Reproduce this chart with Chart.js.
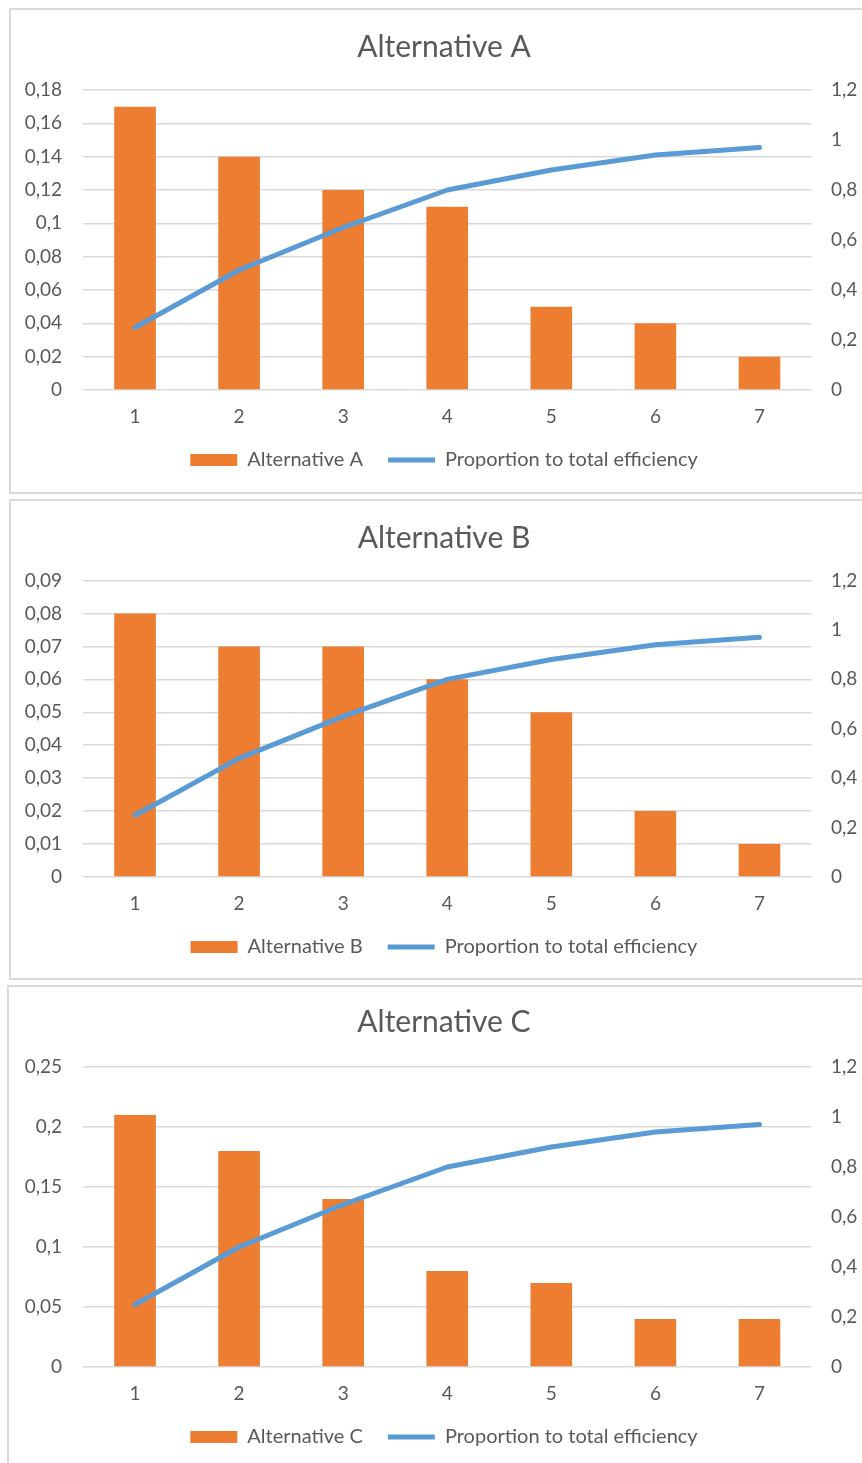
<!DOCTYPE html>
<html>
<head>
<meta charset="utf-8">
<script src="https://cdn.jsdelivr.net/npm/chart.js@4.4.1/dist/chart.umd.min.js"></script>
<style>
  html, body { margin: 0; padding: 0; background: #fff; width: 862px; height: 1463px; overflow: hidden; position: relative; }
  .frame { position: absolute; border: 2px solid #d9d9d9; box-sizing: border-box; }
  canvas { position: absolute; left: 9px; }
</style>
</head>
<body>
<div class="frame" style="left:9px;top:8px;width:870px;height:486px"></div>
<div class="frame" style="left:9px;top:499px;width:870px;height:481px"></div>
<div class="frame" style="left:7px;top:985px;width:870px;height:500px"></div>
<canvas id="chartA" width="862" height="484" style="top:9px"></canvas>
<canvas id="chartB" width="862" height="479" style="top:500px"></canvas>
<canvas id="chartC" width="862" height="477" style="top:986px"></canvas>
<script>
// Measures 1..7
const categories = ['1', '2', '3', '4', '5', '6', '7'];

// Efficiency of each measure per alternative
const alternativeA = [0.17, 0.14, 0.12, 0.11, 0.05, 0.04, 0.02];
const alternativeB = [0.08, 0.07, 0.07, 0.06, 0.05, 0.02, 0.01];
const alternativeC = [0.21, 0.18, 0.14, 0.08, 0.07, 0.04, 0.04];

// Cumulative proportion to total efficiency
const proportionTotal = [0.25, 0.48, 0.65, 0.80, 0.88, 0.94, 0.97];

// Axis tick labels (decimal comma)
const leftTicksA = ['0', '0,02', '0,04', '0,06', '0,08', '0,1', '0,12', '0,14', '0,16', '0,18'];
const leftTicksB = ['0', '0,01', '0,02', '0,03', '0,04', '0,05', '0,06', '0,07', '0,08', '0,09'];
const leftTicksC = ['0', '0,05', '0,1', '0,15', '0,2', '0,25'];
const rightTicks = ['0', '0,2', '0,4', '0,6', '0,8', '1', '1,2'];

const TEXT = '#595959';
const FONT = 'Lato';
const TICK_FONT = { family: FONT, size: 19 };

function makeChart(id, title, label, values, leftTicks, leftMax, leftStep, pad) {
  new Chart(document.getElementById(id), {
    type: 'bar',
    data: {
      labels: categories,
      datasets: [
        {
          type: 'bar',
          label: label,
          data: values,
          backgroundColor: '#ED7D31',
          borderWidth: 0,
          barPercentage: 0.5,
          categoryPercentage: 0.8,
          yAxisID: 'y',
          order: 1
        },
        {
          type: 'line',
          label: 'Proportion to total efficiency',
          data: proportionTotal,
          borderColor: '#5B9BD5',
          backgroundColor: '#5B9BD5',
          borderWidth: 5,
          borderCapStyle: 'round',
          borderJoinStyle: 'round',
          pointRadius: 0,
          tension: 0,
          fill: false,
          yAxisID: 'y1',
          order: 0
        }
      ]
    },
    options: {
      responsive: false,
      devicePixelRatio: 1,
      animation: false,
      layout: { padding: { left: 8, right: 0, top: 0, bottom: pad.bottom } },
      plugins: {
        tooltip: { enabled: false },
        title: {
          display: true,
          text: title,
          color: TEXT,
          font: { family: FONT, size: 30, weight: 'normal', lineHeight: 1.2 },
          padding: { top: pad.titleTop, bottom: pad.titleBottom }
        },
        legend: {
          display: true,
          position: 'bottom',
          labels: {
            color: TEXT,
            font: { family: FONT, size: 20 },
            usePointStyle: true,
            pointStyleWidth: 47,
            boxHeight: 12,
            padding: 25,
            sort: (a, b) => a.datasetIndex - b.datasetIndex,
            generateLabels: (chart) => {
              const items = Chart.defaults.plugins.legend.labels.generateLabels(chart);
              return items.map((it) => {
                if (it.datasetIndex === 0) {
                  it.pointStyle = 'rect';
                  it.lineWidth = 0;
                } else {
                  it.pointStyle = 'line';
                  it.lineWidth = 5;
                  it.strokeStyle = '#5B9BD5';
                  it.lineCap = 'butt';
                }
                return it;
              });
            }
          }
        }
      },
      scales: {
        x: {
          type: 'category',
          offset: true,
          grid: { display: false, drawTicks: false },
          border: { display: false },
          ticks: { color: TEXT, font: TICK_FONT, padding: 15, maxRotation: 0 },
          afterFit: (s) => { s.height = 35; }
        },
        y: {
          position: 'left',
          min: 0,
          max: leftMax,
          grid: { color: '#d9d9d9', lineWidth: 1.5, drawTicks: false },
          border: { display: false },
          ticks: {
            stepSize: leftStep,
            color: TEXT,
            font: TICK_FONT,
            padding: 21,
            callback: (v, i) => leftTicks[i]
          },
          afterFit: (s) => { s.width = 66; }
        },
        y1: {
          position: 'right',
          min: 0,
          max: 1.2,
          grid: { drawOnChartArea: false, drawTicks: false },
          border: { display: false },
          ticks: {
            stepSize: 0.2,
            color: TEXT,
            font: TICK_FONT,
            padding: 19.5,
            callback: (v, i) => rightTicks[i]
          },
          afterFit: (s) => { s.width = 59.5; }
        }
      }
    }
  });
}

makeChart('chartA', 'Alternative A', 'Alternative A', alternativeA, leftTicksA, 0.18, 0.02,
  { titleTop: 20, titleBottom: 25, bottom: 13 });
makeChart('chartB', 'Alternative B', 'Alternative B', alternativeB, leftTicksB, 0.09, 0.01,
  { titleTop: 20, titleBottom: 24.5, bottom: 12 });
makeChart('chartC', 'Alternative C', 'Alternative C', alternativeC, leftTicksC, 0.25, 0.05,
  { titleTop: 18, titleBottom: 27, bottom: 6 });
</script>
</body>
</html>
